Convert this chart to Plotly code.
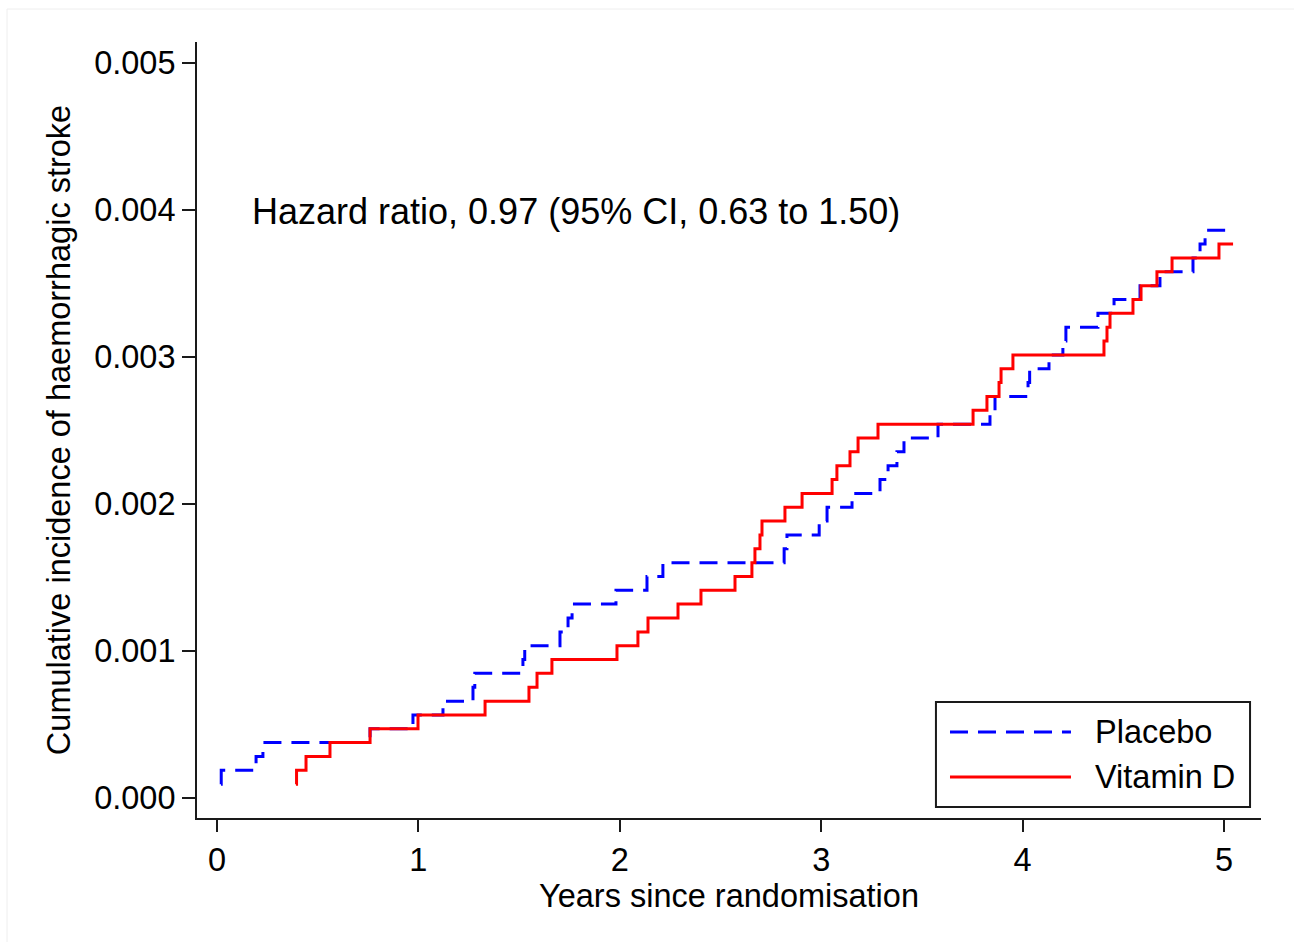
import plotly.graph_objects as go

# ---- data (years, cumulative incidence) ----
placebo_t = [0.020, 0.021, 0.194, 0.228, 0.760, 0.973, 1.122, 1.271, 1.280, 1.519, 1.528,
             1.703, 1.743, 1.763, 1.981, 2.135, 2.214, 2.816, 2.830, 2.990, 3.029, 3.153,
             3.292, 3.332, 3.376, 3.411, 3.580, 3.838, 3.863, 4.027, 4.035, 4.131, 4.200,
             4.215, 4.374, 4.454, 4.583, 4.682, 4.846, 4.881, 4.906, 5.015]
placebo_v = [0.000094, 0.000188, 0.000283, 0.000377, 0.000471, 0.000565, 0.000659, 0.000754,
             0.000848, 0.000942, 0.001036, 0.001130, 0.001225, 0.001319, 0.001413, 0.001507,
             0.001601, 0.001696, 0.001790, 0.001884, 0.001978, 0.002072, 0.002167, 0.002261,
             0.002355, 0.002449, 0.002543, 0.002638, 0.002732, 0.002826, 0.002920, 0.003014,
             0.003109, 0.003203, 0.003297, 0.003391, 0.003485, 0.003580, 0.003674, 0.003768,
             0.003862, 0.003862]

vitd_t = [0.392, 0.395, 0.442, 0.561, 0.760, 0.998, 1.331, 1.549, 1.589, 1.663, 1.986,
          2.090, 2.140, 2.289, 2.403, 2.572, 2.656, 2.671, 2.696, 2.706, 2.820, 2.905,
          3.054, 3.078, 3.143, 3.183, 3.282, 3.754, 3.823, 3.883, 3.893, 3.952, 4.404,
          4.419, 4.434, 4.548, 4.588, 4.667, 4.742, 4.975, 5.045]
vitd_v = [0.000094, 0.000188, 0.000283, 0.000377, 0.000471, 0.000565, 0.000659, 0.000754,
          0.000848, 0.000942, 0.001036, 0.001130, 0.001225, 0.001319, 0.001413, 0.001507,
          0.001601, 0.001696, 0.001790, 0.001884, 0.001978, 0.002072, 0.002167, 0.002261,
          0.002355, 0.002449, 0.002543, 0.002638, 0.002732, 0.002826, 0.002920, 0.003014,
          0.003109, 0.003203, 0.003297, 0.003391, 0.003485, 0.003580, 0.003674, 0.003768,
          0.003768]

x_ticks = [0, 1, 2, 3, 4, 5]
y_ticks = [0.000, 0.001, 0.002, 0.003, 0.004, 0.005]

series_names = ["Placebo", "Vitamin D"]
annotation_text = "Hazard ratio, 0.97 (95% CI, 0.63 to 1.50)"
x_title = "Years since randomisation"
y_title = "Cumulative incidence of haemorrhagic stroke"

FONT = "Liberation Sans, Arial, Helvetica, sans-serif"
BLUE = "#0000ff"
RED = "#ff0000"
AX = "#1a1a1a"
FS = 32.5

fig = go.Figure()
fig.add_trace(go.Scatter(x=placebo_t, y=placebo_v, mode="lines", name=series_names[0],
                         line=dict(color=BLUE, width=3, dash="18px,10px", shape="hv"),
                         showlegend=False))
fig.add_trace(go.Scatter(x=vitd_t, y=vitd_v, mode="lines", name=series_names[1],
                         line=dict(color=RED, width=3, shape="hv"),
                         showlegend=False))

fig.update_layout(
    width=1294, height=942,
    margin=dict(l=197, r=33, t=42, b=124, pad=0),
    paper_bgcolor="white", plot_bgcolor="white",
    font=dict(family=FONT, size=FS, color="black"),
    xaxis=dict(range=[-0.0993, 5.1837], tickvals=x_ticks, ticktext=[str(v) for v in x_ticks],
               showgrid=False, zeroline=False, showline=True, linecolor=AX, linewidth=2,
               ticks="outside", ticklen=12, tickwidth=2, tickcolor=AX,
               tickfont=dict(size=FS, family=FONT),
               title=dict(text=x_title, font=dict(size=FS, family=FONT), standoff=0)),
    yaxis=dict(range=[-0.000136, 0.005143], tickvals=y_ticks,
               ticktext=[f"{v:.3f}" for v in y_ticks],
               showgrid=False, zeroline=False, showline=True, linecolor=AX, linewidth=2,
               ticks="outside", ticklen=13, tickwidth=2, tickcolor=AX,
               tickfont=dict(size=FS, family=FONT),
               title=dict(text=y_title, font=dict(size=FS, family=FONT), standoff=14)),
)

# hazard ratio annotation
fig.add_annotation(x=0.164, y=0.003993, xref="x", yref="y", text=annotation_text,
                   showarrow=False, xanchor="left", yanchor="middle",
                   font=dict(size=36, family=FONT, color="black"))

# manual legend (Stata style: long line samples in a framed box)
lx0, lx1, ly0, ly1 = 0.6945, 0.9897, 0.0142, 0.1495
fig.add_shape(type="rect", xref="paper", yref="paper", x0=lx0, x1=lx1, y0=ly0, y1=ly1,
              line=dict(color=AX, width=2), fillcolor="white", layer="above")
rows = [(0.1108, BLUE, "18px,10px", series_names[0]), (0.0528, RED, "solid", series_names[1])]
for yy, col, dash, name in rows:
    fig.add_shape(type="line", xref="paper", yref="paper", x0=0.7077, x1=0.8214, y0=yy, y1=yy,
                  line=dict(color=col, width=3, dash=dash), layer="above")
    fig.add_annotation(x=0.8421, y=yy, xref="paper", yref="paper", text=name,
                       showarrow=False, xanchor="left", yanchor="middle",
                       font=dict(size=FS, family=FONT, color="black"))

# faint outer frame of the original graphic
fig.add_shape(type="rect", xref="paper", yref="paper",
              x0=(7 - 197) / 1064, x1=(1300 - 197) / 1064,
              y0=(818 - 960) / 776, y1=(818 - 9) / 776,
              line=dict(color="#eeeeee", width=1), layer="below")

fig.write_html("out.html")
